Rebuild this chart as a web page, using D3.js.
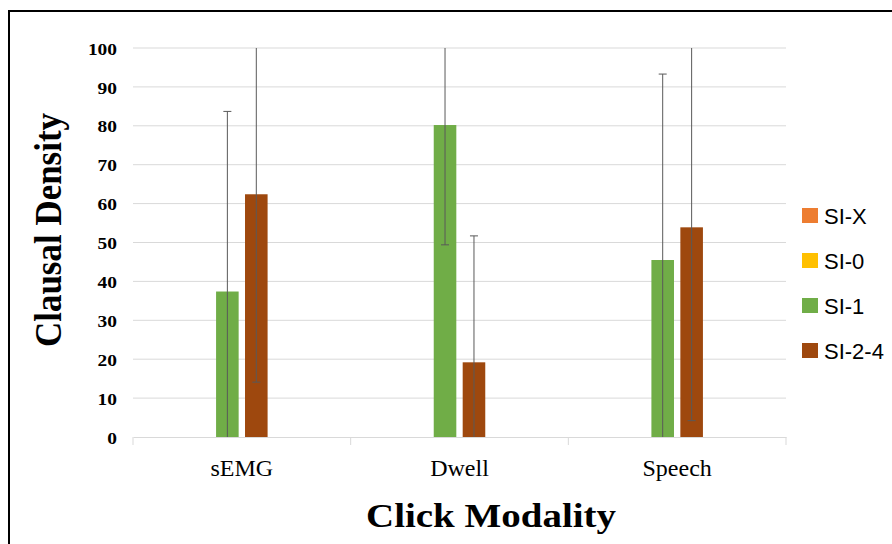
<!DOCTYPE html>
<html>
<head>
<meta charset="utf-8">
<script src="https://cdn.jsdelivr.net/npm/d3@7"></script>
<style>
	body { margin: 0; background: #fff; overflow: hidden; }
</style>
</head>
<body>
<script>
// données
const categories = ["sEMG", "Dwell", "Speech"];
const series = ["SI-X", "SI-0", "SI-1", "SI-2-4"];
const siX = [null, null, null];
const si0 = [null, null, null];
const si1 = [37.4, 80.2, 45.5];
const si24 = [62.4, 19.2, 53.9];
const si1Err = [46.3, 30.8, 47.8];
const si24Err = [48.3, 32.5, 49.7];
const yTicks = [0, 10, 20, 30, 40, 50, 60, 70, 80, 90, 100];

const colors = {
	"SI-X": "#ED7D31",
	"SI-0": "#FFC000",
	"SI-1": "#70AD47",
	"SI-2-4": "#9E480E",
};

const WIDTH = 892;
const HEIGHT = 544;

const svg = d3
	.select("body")
	.append("svg")
	.attr("width", WIDTH)
	.attr("height", HEIGHT);

// cadre
svg
	.append("rect")
	.attr("x", 9)
	.attr("y", 11)
	.attr("width", 950)
	.attr("height", 600)
	.attr("fill", "none")
	.attr("stroke", "#000")
	.attr("stroke-width", 2);

const x0 = d3.scaleBand().domain(categories).range([133, 786]);
const y = d3.scaleLinear().domain([0, 100]).range([437, 48]);

const valueSets = [siX, si0, si1, si24];
const errSets = [null, null, si1Err, si24Err];
// seules les séries avec des valeurs occupent une place
const shown = series.filter((s, i) => valueSets[i].some((v) => v !== null));
const x1 = d3
	.scaleBand()
	.domain(shown)
	.range([0, x0.bandwidth()])
	.paddingInner(0.22)
	.paddingOuter(2.87);

// grille
svg
	.append("g")
	.selectAll("line")
	.data(yTicks.filter((t) => t > 0))
	.enter()
	.append("line")
	.attr("x1", 133)
	.attr("x2", 786)
	.attr("y1", (d) => y(d))
	.attr("y2", (d) => y(d))
	.attr("stroke", "#d9d9d9")
	.attr("stroke-width", 1);

// axe x
const xAxis = svg
	.append("g")
	.attr("transform", `translate(0,${y(0)})`)
	.call(d3.axisBottom(x0).tickSize(0).tickFormat(""));
xAxis.select(".domain").attr("stroke", "#d9d9d9");
const bounds = categories.map((c) => x0(c)).concat([x0.range()[1]]);
svg
	.append("g")
	.selectAll("line")
	.data(bounds)
	.enter()
	.append("line")
	.attr("x1", (d) => d)
	.attr("x2", (d) => d)
	.attr("y1", y(0))
	.attr("y2", y(0) + 8)
	.attr("stroke", "#d9d9d9");

svg
	.append("g")
	.selectAll("text")
	.data(categories)
	.enter()
	.append("text")
	.attr("x", (d) => x0(d) + x0.bandwidth() / 2)
	.attr("y", 476)
	.attr("text-anchor", "middle")
	.style("font-family", "'Liberation Serif', 'Times New Roman', serif")
	.style("font-size", "24px")
	.style("fill", "#000")
	.text((d) => d);

// axe y
const yAxis = svg
	.append("g")
	.attr("transform", "translate(117,0)")
	.call(d3.axisLeft(y).tickValues(yTicks).tickSize(0).tickPadding(0));
yAxis.select(".domain").remove();
yAxis
	.selectAll("text")
	.attr("dy", "0.36em")
	.attr("textLength", (d) => String(d).length * 9.7)
	.attr("lengthAdjust", "spacingAndGlyphs")
	.style("font-family", "'Liberation Serif', 'Times New Roman', serif")
	.style("font-weight", "bold")
	.style("font-size", "17px")
	.style("fill", "#000");

// barres
const rows = [];
categories.forEach((c, ci) => {
	series.forEach((s, si) => {
		const v = valueSets[si][ci];
		if (v === null) return;
		rows.push({ cat: c, series: s, value: v, err: errSets[si][ci] });
	});
});

svg
	.append("g")
	.selectAll("rect")
	.data(rows)
	.enter()
	.append("rect")
	.attr("x", (d) => x0(d.cat) + x1(d.series))
	.attr("width", x1.bandwidth())
	.attr("y", (d) => y(d.value))
	.attr("height", (d) => y(0) - y(d.value))
	.attr("fill", (d) => colors[d.series]);

// barres d'erreur (coupées à l'échelle)
const errG = svg.append("g").attr("stroke", "#595959").attr("stroke-width", 1);
rows.forEach((d) => {
	const cx = x0(d.cat) + x1(d.series) + x1.bandwidth() / 2;
	const hi = d.value + d.err;
	const lo = d.value - d.err;
	const top = y(Math.min(hi, 100));
	const bot = y(Math.max(lo, 0));
	errG
		.append("line")
		.attr("x1", cx)
		.attr("x2", cx)
		.attr("y1", top)
		.attr("y2", bot);
	if (hi <= 100) {
		errG.append("line").attr("x1", cx - 4).attr("x2", cx + 4).attr("y1", top).attr("y2", top);
	}
	if (lo >= 0) {
		errG.append("line").attr("x1", cx - 4).attr("x2", cx + 4).attr("y1", bot).attr("y2", bot);
	}
});

// titres
svg
	.append("text")
	.attr("transform", "translate(61,230) rotate(-90)")
	.attr("text-anchor", "middle")
	.attr("textLength", 234)
	.attr("lengthAdjust", "spacingAndGlyphs")
	.style("font-family", "'Liberation Serif', 'Times New Roman', serif")
	.style("font-weight", "bold")
	.style("font-size", "38px")
	.text("Clausal Density");

svg
	.append("text")
	.attr("x", 491)
	.attr("y", 527)
	.attr("text-anchor", "middle")
	.attr("textLength", 250)
	.attr("lengthAdjust", "spacingAndGlyphs")
	.style("font-family", "'Liberation Serif', 'Times New Roman', serif")
	.style("font-weight", "bold")
	.style("font-size", "34px")
	.text("Click Modality");

// légende
const legend = svg
	.append("g")
	.selectAll("g")
	.data(series)
	.enter()
	.append("g")
	.attr("transform", (d, i) => `translate(802,${216 + i * 45})`);
legend
	.append("rect")
	.attr("x", 0)
	.attr("y", -8)
	.attr("width", 16)
	.attr("height", 15)
	.attr("fill", (d) => colors[d]);
legend
	.append("text")
	.attr("x", 22)
	.attr("y", 0)
	.attr("dy", "0.35em")
	.style("font-family", "'Liberation Sans', Arial, sans-serif")
	.style("font-size", "22px")
	.style("fill", "#000")
	.text((d) => d);
</script>
</body>
</html>
